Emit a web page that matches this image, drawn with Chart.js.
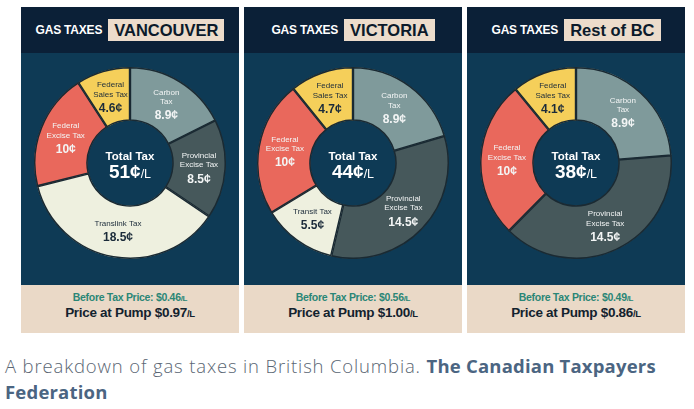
<!DOCTYPE html>
<html><head><meta charset="utf-8">
<script src="https://cdn.jsdelivr.net/npm/chart.js@4"></script>
<style>
html,body{margin:0;padding:0}
body{width:694px;height:409px;background:#fff;overflow:hidden;font-family:'Liberation Sans',Arial,sans-serif;position:relative}
.panel{position:absolute;top:7px;width:218px;height:326px;background:#0e3a55}
.head{position:absolute;left:0;top:0;width:100%;height:46px;background:#0b2037;display:flex;align-items:center;justify-content:center}
.gt{color:#fff;font-weight:bold;font-size:12px;margin-right:6px;letter-spacing:-0.2px}
.box{background:#ecdccb;color:#0b1a2a;font-weight:bold;font-size:16.5px;padding:0 6px;height:22px;line-height:23px}
.foot{position:absolute;left:0;top:278px;width:100%;height:48px;background:#ead9c7;text-align:center}
.bt{position:absolute;left:0;width:100%;top:5px;line-height:14px;font-size:10.5px;font-weight:bold;color:#2a8676;letter-spacing:-0.3px}
.pp{position:absolute;left:0;width:100%;top:19px;line-height:18px;font-size:13.5px;font-weight:bold;color:#13222e;letter-spacing:-0.3px}
.sm{font-size:8px}
.pp .sm{font-size:9.5px}
canvas{position:absolute}
.ct{position:absolute;left:0;width:218px;text-align:center;color:#fff;font-weight:bold}
.ct1{top:142px;font-size:11.5px;line-height:14px}
.ct2{top:154px;font-size:19px;line-height:22px}
.ct2 span{font-size:12.5px;font-weight:normal}
.cap{position:absolute;left:5px;top:353px;font-family:'Open Sans',sans-serif;font-weight:300;font-size:18.5px;line-height:26px;color:#5a6673;white-space:nowrap;letter-spacing:0.85px}
.cap b{font-weight:700;color:#4b6582;letter-spacing:0.2px}
</style></head>
<body>
<div class="panel" style="left:21px">
  <div class="head"><span class="gt">GAS TAXES</span><span class="box">VANCOUVER</span></div>
  <canvas id="c1" width="192" height="192" style="left:13px;top:60px;width:192px;height:192px"></canvas>
  <div class="ct ct1">Total Tax</div><div class="ct ct2">51¢<span>/L</span></div>
  <div class="foot"><div class="bt">Before Tax Price: $0.46<span class="sm">/L</span></div><div class="pp">Price at Pump $0.97<span class="sm">/L</span></div></div>
</div>
<div class="panel" style="left:244px">
  <div class="head"><span class="gt">GAS TAXES</span><span class="box">VICTORIA</span></div>
  <canvas id="c2" width="192" height="192" style="left:13px;top:60px;width:192px;height:192px"></canvas>
  <div class="ct ct1">Total Tax</div><div class="ct ct2">44¢<span>/L</span></div>
  <div class="foot"><div class="bt">Before Tax Price: $0.56<span class="sm">/L</span></div><div class="pp">Price at Pump $1.00<span class="sm">/L</span></div></div>
</div>
<div class="panel" style="left:467px">
  <div class="head"><span class="gt">GAS TAXES</span><span class="box">Rest of BC</span></div>
  <canvas id="c3" width="192" height="192" style="left:13px;top:60px;width:192px;height:192px"></canvas>
  <div class="ct ct1">Total Tax</div><div class="ct ct2">38¢<span>/L</span></div>
  <div class="foot"><div class="bt">Before Tax Price: $0.49<span class="sm">/L</span></div><div class="pp">Price at Pump $0.86<span class="sm">/L</span></div></div>
</div>
<div class="cap">A breakdown of gas taxes in British Columbia. <b>The Canadian Taxpayers</b><br><b>Federation</b></div>
<script>
// ---- data ----
const vancouverCategories = ['Carbon\nTax', 'Provincial\nExcise Tax', 'Translink Tax', 'Federal\nExcise Tax', 'Federal\nSales Tax'];
const vancouverValues = [8.9, 8.5, 18.5, 10, 4.6];
const victoriaCategories = ['Carbon\nTax', 'Provincial\nExcise Tax', 'Transit Tax', 'Federal\nExcise Tax', 'Federal\nSales Tax'];
const victoriaValues = [8.9, 14.5, 5.5, 10, 4.7];
const restCategories = ['Carbon\nTax', 'Provincial\nExcise Tax', 'Federal\nExcise Tax', 'Federal\nSales Tax'];
const restValues = [8.9, 14.5, 10, 4.1];

// ---- styles ----
function colorFor(cat){
  if (cat.startsWith('Carbon')) return '#7f9a9b';
  if (cat.startsWith('Provincial')) return '#46585b';
  if (cat.startsWith('Trans')) return '#eef0df';
  if (cat.includes('Excise')) return '#e9685c';
  return '#f5cf5a';
}
function textFor(cat){
  if (cat.startsWith('Trans') || cat.includes('Sales')) return '#1b2b3a';
  return '#f3f5f5';
}

const sliceLabels = {
  id: 'sliceLabels',
  afterDatasetsDraw(chart){
    const ctx = chart.ctx;
    const meta = chart.getDatasetMeta(0);
    const ds = chart.data.datasets[0];
    meta.data.forEach((arc, i) => {
      const p = arc.getCenterPoint();
      const cat = chart.data.labels[i];
      const lines = cat.split('\n');
      const val = ds.data[i] + '¢';
      const n = lines.length;
      const h = (n - 1) * 9.5 + 14;
      let y = p.y - h / 2;
      ctx.save();
      ctx.fillStyle = textFor(cat);
      ctx.textAlign = 'center';
      ctx.textBaseline = 'middle';
      ctx.font = '8px "Liberation Sans", Arial, sans-serif';
      lines.forEach((ln, k) => { ctx.fillText(ln, p.x, y + k * 9.5); });
      ctx.font = 'bold 12px "Liberation Sans", Arial, sans-serif';
      ctx.fillText(val, p.x, y + (n - 1) * 9.5 + 14);
      ctx.restore();
    });
  }
};

function makeChart(id, cats, vals){
  new Chart(document.getElementById(id), {
    type: 'doughnut',
    data: {
      labels: cats,
      datasets: [{
        data: vals,
        backgroundColor: cats.map(colorFor),
        borderColor: '#1a2a33',
        borderWidth: 1.2,
        borderAlign: 'inner'
      }]
    },
    options: {
      responsive: false,
      animation: false,
      cutout: '44%',
      layout: { padding: 0 },
      plugins: { legend: { display: false }, tooltip: { enabled: false } }
    },
    plugins: [sliceLabels]
  });
}
makeChart('c1', vancouverCategories, vancouverValues);
makeChart('c2', victoriaCategories, victoriaValues);
makeChart('c3', restCategories, restValues);
</script>
</body></html>
